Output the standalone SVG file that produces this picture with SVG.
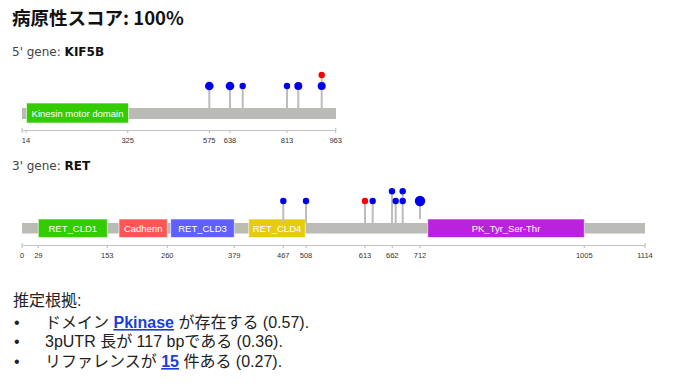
<svg xmlns="http://www.w3.org/2000/svg" width="675" height="392" viewBox="0 0 675 392">
<style>
.title{font-family:"Noto Sans CJK JP","Liberation Sans",sans-serif;font-weight:bold;font-size:18.5px;fill:#111}
.gene{font-family:"DejaVu Sans","Liberation Sans",sans-serif;font-size:12px;fill:#444}
.gene tspan.b{font-weight:bold;fill:#111}
.bar{fill:#babbb5}
.dom{stroke:#ffffff;stroke-opacity:0.6;stroke-width:1}
.dl{font-family:"Liberation Sans",Arial,sans-serif;font-size:9.5px;fill:#fff;text-anchor:middle}
.axis{stroke:#c4c4c4;stroke-width:1.2;fill:none}
.tk{font-family:"Liberation Sans",Arial,sans-serif;font-size:7.5px;fill:#333;text-anchor:middle}
.stem{stroke:#bdbdbd;stroke-width:2}
.blue{fill:#0000ee}
.red{fill:#ff0000}
.body{font-family:"Liberation Sans","Noto Sans CJK JP",sans-serif;font-size:16px;fill:#222}
.link{fill:#1a3fd6;font-weight:bold;text-decoration:underline}
</style>
<rect width="675" height="392" fill="#fff"/>
<text class="title" x="12" y="25">病原性スコア: 100%</text>
<text class="gene" x="12" y="56">5' gene: <tspan class="b">KIF5B</tspan></text>

<g id="kif5b">
  <rect class="bar" x="22" y="108" width="314" height="11"/>
  <g id="kinesin">
    <rect class="dom" x="26.5" y="103" width="102" height="20" fill="#33cc00"/>
    <text class="dl" x="77.5" y="116.5">Kinesin motor domain</text>
  </g>
  <g id="kif5b-axis">
    <path class="axis" d="M22,130.5 H336 M22,128 V133 M26,130.5 V133 M127.7,130.5 V133 M209.3,130.5 V133 M230,130.5 V133 M287,130.5 V133 M335.7,128 V133"/>
    <text class="tk" x="26" y="143">14</text>
    <text class="tk" x="127.7" y="143">325</text>
    <text class="tk" x="209.3" y="143">575</text>
    <text class="tk" x="230" y="143">638</text>
    <text class="tk" x="287" y="143">813</text>
    <text class="tk" x="335.7" y="143">963</text>
  </g>
  <g id="kif5b-mutations">
    <path class="stem" d="M209.3,86 V108 M230,86 V108 M242.7,86 V108 M287,86 V108 M298.3,86 V108 M321.7,75 V108"/>
    <circle class="blue" cx="209.3" cy="86" r="4.3"/>
    <circle class="blue" cx="230" cy="86" r="4.3"/>
    <circle class="blue" cx="242.7" cy="86" r="3.2"/>
    <circle class="blue" cx="287" cy="86" r="3.2"/>
    <circle class="blue" cx="298.3" cy="86" r="4"/>
    <circle class="blue" cx="321.7" cy="86" r="4"/>
    <circle class="red" cx="321.7" cy="75" r="3.2"/>
  </g>
</g>

<text class="gene" x="12" y="170">3' gene: <tspan class="b">RET</tspan></text>

<g id="ret">
  <rect class="bar" x="22" y="223" width="623" height="10.5"/>
  <g id="ret-cld1">
    <rect class="dom" x="38.3" y="219" width="69" height="18.5" fill="#33cc00"/>
    <text class="dl" x="72.8" y="231.5">RET_CLD1</text>
  </g>
  <g id="cadherin">
    <rect class="dom" x="119" y="219" width="48.3" height="18.5" fill="#ff5555"/>
    <text class="dl" x="143.2" y="231.5">Cadherin</text>
  </g>
  <g id="ret-cld3">
    <rect class="dom" x="170.7" y="219" width="63.6" height="18.5" fill="#6060ff"/>
    <text class="dl" x="202.5" y="231.5">RET_CLD3</text>
  </g>
  <g id="ret-cld4">
    <rect class="dom" x="248.7" y="219" width="56.6" height="18.5" fill="#e6cc10"/>
    <text class="dl" x="277" y="231.5">RET_CLD4</text>
  </g>
  <g id="pk">
    <rect class="dom" x="427.7" y="219" width="156.6" height="18.5" fill="#bb22dd"/>
    <text class="dl" x="506" y="231.5">PK_Tyr_Ser-Thr</text>
  </g>
  <g id="ret-axis">
    <path class="axis" d="M22,245.5 H645 M22,243 V248 M38.3,245.5 V248 M107.3,245.5 V248 M167.3,245.5 V248 M234.3,245.5 V248 M283.3,245.5 V248 M306,245.5 V248 M365,245.5 V248 M392.3,245.5 V248 M420,245.5 V248 M584.3,245.5 V248 M645,243 V248"/>
    <text class="tk" x="22" y="258">0</text>
    <text class="tk" x="38.3" y="258">29</text>
    <text class="tk" x="107.3" y="258">153</text>
    <text class="tk" x="167.3" y="258">260</text>
    <text class="tk" x="234.3" y="258">379</text>
    <text class="tk" x="283.3" y="258">467</text>
    <text class="tk" x="306" y="258">508</text>
    <text class="tk" x="365" y="258">613</text>
    <text class="tk" x="392.3" y="258">662</text>
    <text class="tk" x="420" y="258">712</text>
    <text class="tk" x="584.3" y="258">1005</text>
    <text class="tk" x="645" y="258">1114</text>
  </g>
  <g id="ret-mutations">
    <path class="stem" d="M283.3,201 V223 M306,201 V223 M365,201 V223 M372.7,201 V223 M392,191 V223 M395.7,201 V223 M402.7,191 V223 M420,201 V219"/>
    <circle class="blue" cx="283.3" cy="201" r="3.2"/>
    <circle class="blue" cx="306" cy="201" r="3.2"/>
    <circle class="red" cx="365" cy="201" r="3.2"/>
    <circle class="blue" cx="372.7" cy="201" r="3.2"/>
    <circle class="blue" cx="392" cy="191.3" r="3.2"/>
    <circle class="blue" cx="395.7" cy="201" r="3.2"/>
    <circle class="blue" cx="402.7" cy="191.3" r="3.2"/>
    <circle class="blue" cx="402.7" cy="201" r="3.2"/>
    <circle class="blue" cx="420" cy="201" r="5.2"/>
  </g>
</g>

<g id="evidence">
  <text class="body" x="13" y="306" font-size="17">推定根拠:</text>
  <text class="body" y="328"><tspan x="14">•</tspan><tspan x="45">ドメイン </tspan><tspan class="link">Pkinase</tspan> が存在する (0.57).</text>
  <text class="body" y="347"><tspan x="14">•</tspan><tspan x="45">3pUTR 長が 117 bpである (0.36).</tspan></text>
  <text class="body" y="367"><tspan x="14">•</tspan><tspan x="45">リファレンスが </tspan><tspan class="link">15</tspan> 件ある (0.27).</text>
</g>
</svg>
